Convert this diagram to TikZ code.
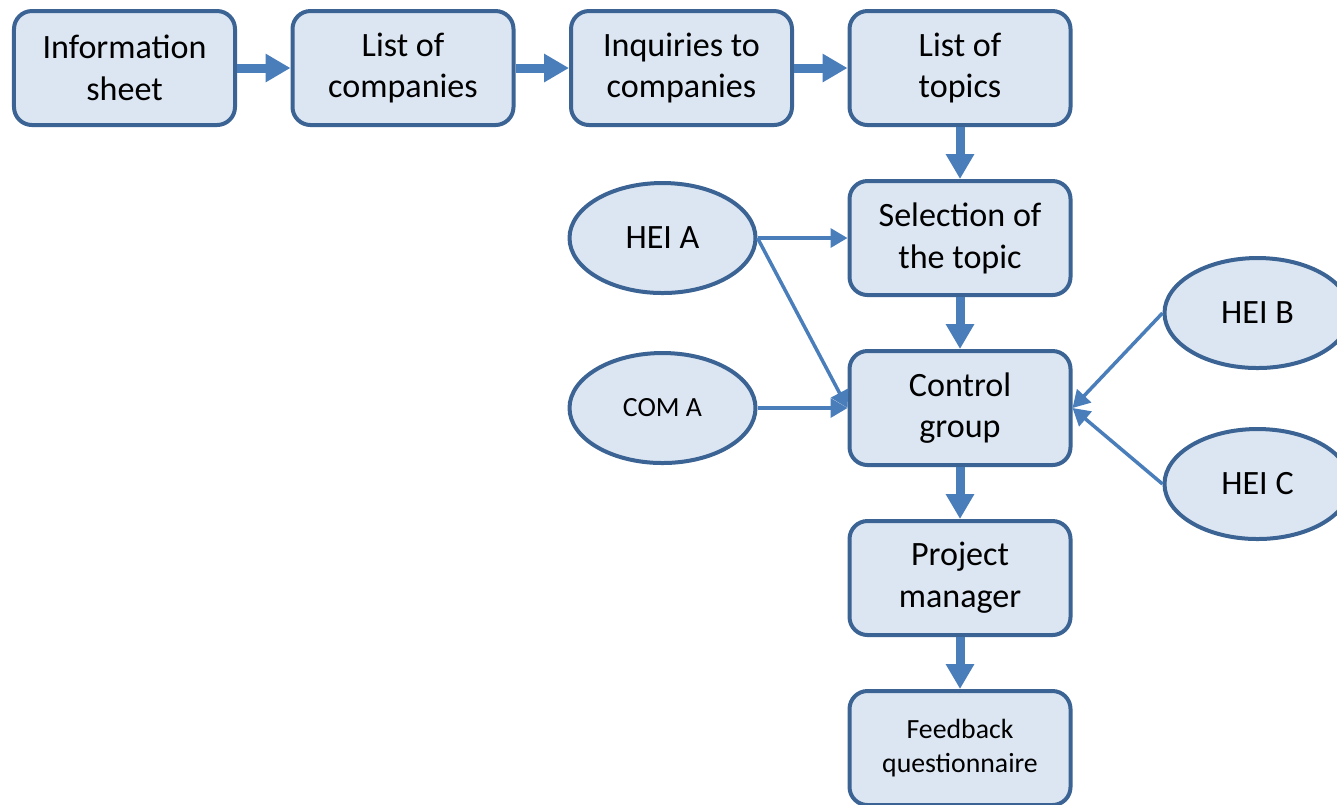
\documentclass[tikz,border=0pt]{standalone}
\usepackage{fontspec}
\setmainfont{Carlito}
\usepackage{tikz}
\usetikzlibrary{positioning}
\usetikzlibrary{shapes.geometric}
\usetikzlibrary{arrows.meta}
\definecolor{boxfill}{HTML}{DCE6F2}
\definecolor{boxline}{HTML}{3B6393}
\definecolor{arrowblue}{HTML}{4A7EBB}

\begin{document}
\begin{tikzpicture}[
                          node distance=0.52cm and 0.535cm,
                          boxnode/.style={rectangle, rounded corners=0.18cm, draw=boxline, fill=boxfill, line width=0.04cm, minimum width=2.21cm, minimum height=1.14cm, align=center, font=\fontsize{9.7}{11.9}\selectfont},
                          ovalnode/.style={ellipse, draw=boxline, fill=boxfill, line width=0.04cm, minimum width=1.86cm, minimum height=1.10cm, inner sep=0pt, font=\fontsize{9.7}{11.9}\selectfont},
                          smalltext/.style={font=\fontsize{7.9}{9.6}\selectfont},
                          thickarrow/.style={draw=arrowblue, line width=0.09cm, -{Triangle[width=0.27cm,length=0.25cm]}},
                          thinarrow/.style={draw=arrowblue, line width=0.035cm, -{Triangle[width=0.19cm,length=0.17cm]}},
                      ]
                      \useasboundingbox (0,0) rectangle (13.37,-8.04);
                      %Nodes
                      \node[boxnode]      (info)       at (1.245,-0.68)             {Information\\sheet};
                      \node[boxnode]      (companies)  [right=of info]              {List of\\companies};
                      \node[boxnode]      (inquiries)  [right=of companies]         {Inquiries to\\companies};
                      \node[boxnode]      (topics)     [right=of inquiries]         {List of\\topics};
                      \node[boxnode]      (selection)  [below=of topics]            {Selection of\\the topic};
                      \node[boxnode]      (control)    [below=of selection]         {Control\\group};
                      \node[boxnode]      (manager)    [below=of control]           {Project\\manager};
                      \node[boxnode, smalltext]    (feedback)   [below=of manager]  {Feedback\\questionnaire};
                      \node[ovalnode]     (heiA)       [left=0.90cm of selection]   {HEI A};
                      \node[ovalnode, smalltext]   (comA)       [left=0.90cm of control]     {COM A};
                      \node[ovalnode]     (heiB)       [right=0.90cm of control, yshift=0.95cm]   {HEI B};
                      \node[ovalnode]     (heiC)       [right=0.90cm of control, yshift=-0.76cm]  {HEI C};

                      %Lines
                      \draw[thickarrow] (info.east) -- (companies.west);
                      \draw[thickarrow] (companies.east) -- (inquiries.west);
                      \draw[thickarrow] (inquiries.east) -- (topics.west);
                      \draw[thickarrow] (topics.south) -- (selection.north);
                      \draw[thickarrow] (selection.south) -- (control.north);
                      \draw[thickarrow] (control.south) -- (manager.north);
                      \draw[thickarrow] (manager.south) -- (feedback.north);
                      \draw[thinarrow] (heiA.east) -- (selection.west);
                      \draw[thinarrow] (heiA.east) -- (control.west);
                      \draw[thinarrow] (comA.east) -- (control.west);
                      \draw[thinarrow] (heiB.west) -- (control.east);
                      \draw[thinarrow] (heiC.west) -- (control.east);
                  \end{tikzpicture}
\end{document}
